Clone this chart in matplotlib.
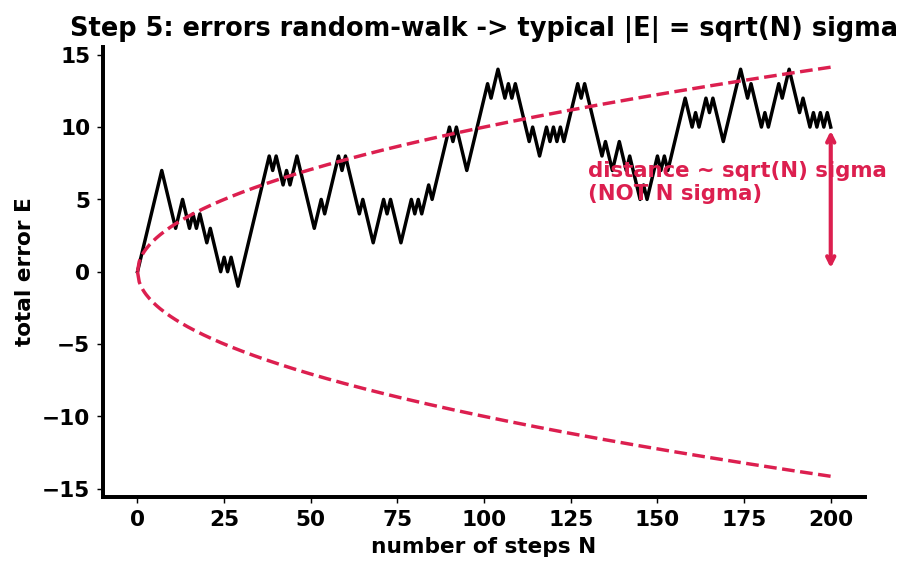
import numpy as np
import matplotlib
matplotlib.use("Agg")
import matplotlib.pyplot as plt

# turning points of the +-1 random walk (N, E)
steps_N = [0, 7, 11, 13, 15, 16, 17, 18, 20, 21, 24, 25, 26, 27, 29, 38, 39, 40, 42, 43,
           44, 46, 51, 53, 54, 58, 59, 60, 64, 65, 68, 71, 72, 73, 76, 79, 80, 81, 82, 84,
           85, 90, 91, 92, 95, 101, 102, 104, 106, 107, 108, 109, 113, 114, 116, 118, 119,
           120, 121, 122, 123, 127, 128, 129, 134, 135, 137, 139, 141, 142, 145, 146, 147,
           150, 151, 152, 153, 158, 160, 161, 162, 164, 165, 166, 169, 174, 176, 177, 180,
           181, 182, 185, 186, 188, 191, 192, 194, 195, 196, 197, 198, 199, 200]
error_E = [0, 7, 3, 5, 3, 4, 3, 4, 2, 3, 0, 1, 0, 1, -1, 8, 7, 8, 6, 7,
           6, 8, 3, 5, 4, 8, 7, 8, 4, 5, 2, 5, 4, 5, 2, 5, 4, 5, 4, 6,
           5, 10, 9, 10, 7, 13, 12, 14, 12, 13, 12, 13, 9, 10, 8, 10, 9,
           10, 9, 10, 9, 13, 12, 13, 8, 9, 7, 9, 7, 8, 5, 6, 5,
           8, 7, 8, 7, 12, 10, 11, 10, 12, 11, 12, 9, 14, 12, 13, 10,
           11, 10, 13, 12, 14, 11, 12, 10, 11, 10, 11, 10, 11, 10]

n_max = 200
sigma = 1.0
red = '#dc1f4f'

plt.rcParams['font.weight'] = 'bold'
plt.rcParams['axes.labelweight'] = 'bold'
plt.rcParams['axes.titleweight'] = 'bold'

fig, ax = plt.subplots(figsize=(7, 4.41), dpi=130)
fig.subplots_adjust(left=0.113, right=0.951, bottom=0.133, top=0.918)

N = np.linspace(0, n_max, 400)
ax.plot(steps_N, error_E, color='black', lw=1.9)
ax.plot(N, np.sqrt(N) * sigma, '--', color=red, lw=1.9)
ax.plot(N, -np.sqrt(N) * sigma, '--', color=red, lw=1.9)

ax.annotate('', xy=(200, 0), xytext=(200, 10),
            arrowprops=dict(arrowstyle='<->', color=red, lw=2.3))
ax.text(130, 5, 'distance ~ sqrt(N) sigma\n(NOT N sigma)', color=red,
        fontsize=11.8, fontweight='bold')

ax.set_title('Step 5: errors random-walk -> typical |E| = sqrt(N) sigma', fontsize=14.2)
ax.set_xlabel('number of steps N', fontsize=12)
ax.set_ylabel('total error E', fontsize=12)
ax.set_xticks([0, 25, 50, 75, 100, 125, 150, 175, 200])
ax.set_yticks([-15, -10, -5, 0, 5, 10, 15])
ax.tick_params(labelsize=12)
for s in ['top', 'right']:
    ax.spines[s].set_visible(False)
for s in ['left', 'bottom']:
    ax.spines[s].set_linewidth(2.2)

fig.savefig('out.png')
